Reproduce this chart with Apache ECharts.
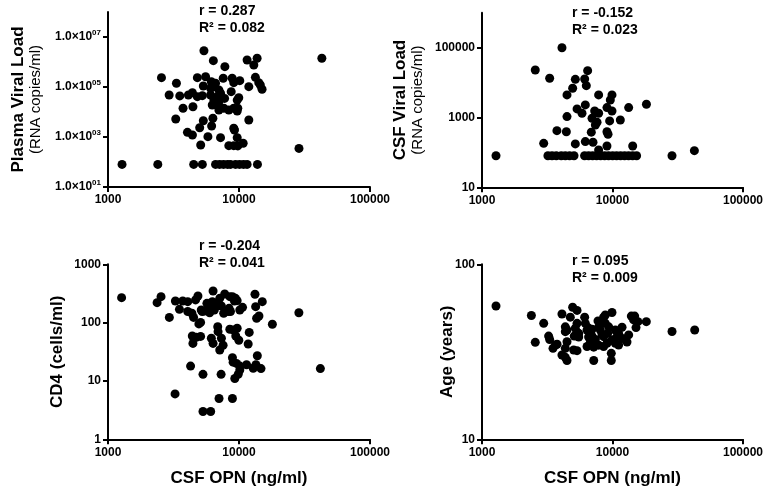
<!DOCTYPE html>
<html>
<head>
<meta charset="utf-8">
<script src="https://cdn.jsdelivr.net/npm/echarts@6/dist/echarts.min.js"></script>
<style>
  html, body { margin: 0; padding: 0; background: #fff; }
  #chart { width: 770px; height: 494px; }
</style>
</head>
<body>
<div id="chart"></div>
<script>
// CSF OPN (ng/ml) against plasma VL, CSF VL, CD4 and age, all log-log
const plasmaPoints = [
  [5400, 2830000], [6370, 1130000], [7800, 650000], [11530, 1200000], [12970, 760000], [13750, 1410000], [42900, 1410000],
  [2560, 236000], [3330, 141000], [4810, 236000], [5560, 258000], [5340, 110000], [6150, 163000], [6620, 141000],
  [7580, 223000], [8870, 223000], [9120, 149000], [10140, 179000], [13340, 244000], [14150, 149000], [14550, 120000],
  [15000, 81000], [11880, 103000],
  [2930, 48000], [3530, 44000], [4110, 48000], [4410, 59000], [4810, 41000], [5250, 45000], [6070, 89000], [6430, 103000],
  [7020, 76000], [6070, 48000], [6830, 41000], [7230, 56000], [7760, 35000], [6430, 30000], [7020, 25800], [6250, 19000],
  [6740, 22300], [8720, 65000], [9960, 37000], [9690, 30000],
  [4450, 16300], [3740, 14100], [7020, 12000], [7660, 14100], [8360, 12000], [9120, 14100], [9790, 14100], [9690, 11000],
  [3290, 5250], [5340, 4490], [6320, 5600], [11880, 4790], [6180, 2750], [5010, 2350], [9120, 2230], [9240, 1900],
  [4040, 1540], [4410, 1200], [5790, 1030], [7230, 940], [9690, 940],
  [5100, 480], [8360, 450], [9120, 450], [9790, 440], [10760, 560], [28700, 350],
  [1280, 80], [2400, 80], [4510, 80], [5250, 80], [6620, 80], [7110, 80], [7620, 80], [8180, 80], [8610, 80],
  [9400, 80], [10090, 80], [10820, 80], [11530, 80], [13830, 80]
];

const csfPoints = [
  [4100, 100000], [2560, 23000], [6450, 22000], [3300, 13300], [5190, 12400], [6120, 12700], [6300, 8190], [4950, 6870],
  [4480, 4430], [7830, 4430], [9910, 4430], [9620, 3180], [6190, 2290], [5350, 1760], [7300, 1540], [5840, 1320],
  [7830, 1320], [9070, 1920], [9910, 1540], [13300, 1920], [18200, 2390], [4480, 1060], [6970, 950], [7610, 730],
  [7390, 610], [9510, 800], [11480, 850], [3750, 420], [4430, 390], [6880, 380], [9070, 390], [9240, 330],
  [2970, 182], [5190, 175], [6190, 204], [7090, 195], [9070, 153], [7830, 117], [14280, 153], [42400, 112],
  [1280, 80], [3200, 80], [3440, 80], [3710, 80], [4050, 80], [4350, 80], [4690, 80], [5070, 80], [6110, 80],
  [6560, 80], [7040, 80], [7550, 80], [8110, 80], [8700, 80], [9330, 80], [10020, 80], [10740, 80], [11530, 80],
  [12380, 80], [13280, 80], [14260, 80], [15300, 80], [28570, 80]
];

const cd4Points = [
  [1270, 268], [2370, 220], [2540, 279], [2940, 123], [3270, 235], [3510, 169], [3720, 235], [4060, 229], [4860, 286],
  [4660, 245], [4060, 155], [4370, 145], [4500, 123], [4940, 95], [5090, 101], [5240, 155], [5690, 214], [6340, 349],
  [6260, 229], [5460, 158], [5970, 148], [6480, 165], [6710, 193], [7130, 261], [7340, 193], [7640, 145], [7780, 310],
  [8400, 176], [8610, 155], [8910, 279], [9230, 235], [9400, 261], [9680, 238], [10140, 165], [10640, 183],
  [13240, 306], [13630, 119], [13400, 188], [15060, 229], [14200, 130], [17980, 94], [28640, 148], [41800, 16.3],
  [5150, 165], [5970, 176], [6920, 214], [8510, 279], [8260, 155],
  [6880, 85], [6920, 70], [7340, 54], [7560, 41], [7130, 34], [6150, 54], [6340, 44], [4400, 59], [4720, 56],
  [5090, 58], [4450, 44], [8510, 77], [9020, 75], [9450, 59], [9680, 80], [9970, 50], [11970, 68], [11750, 43],
  [13800, 27], [8910, 25], [9020, 21], [9570, 20], [10140, 18], [10140, 15.4], [9860, 13], [9290, 11], [13470, 19],
  [12840, 16.5], [14720, 16.3], [11420, 19], [4270, 18], [5310, 13], [7300, 13], [3250, 6], [7040, 5], [8910, 5],
  [5310, 3], [6080, 3]
];

const agePoints = [
  [1280, 57.8], [2390, 51.0], [2970, 46], [2560, 35.8], [3240, 38.9], [3300, 37.2], [3500, 33.1], [3760, 34.9],
  [4100, 52], [4100, 30.3], [4350, 29.4], [4480, 28.2], [4480, 36.1], [4350, 33.1], [4480, 42.1], [4350, 43.9],
  [4750, 49.9], [4950, 56.8], [5350, 54.5], [5040, 32.4], [5350, 32.1], [5090, 38.9], [5510, 40.3], [5510, 38.4],
  [6120, 49.9], [6190, 46], [6380, 42.1], [6380, 33.9], [6560, 38.4], [6760, 35.6], [6970, 42.5], [7180, 33.6],
  [7390, 37.2], [7740, 47.5], [7830, 43.9], [8070, 42.1], [8310, 39.5], [8550, 49.9], [8810, 51.3], [8810, 46],
  [9350, 43.9], [9080, 35.4], [8550, 33.9], [9910, 53], [9910, 37], [9790, 31], [7180, 28.2], [9790, 28.2],
  [10510, 42.1], [10820, 38.6], [11140, 40.3], [11830, 43.7], [11960, 37.7], [12910, 36], [13300, 39.5],
  [13940, 50.6], [14790, 50.6], [14520, 48.1], [15140, 43.5], [15670, 47], [18160, 47], [28580, 41.3], [42650, 42.1],
  [8550, 38.6], [7830, 34.5], [10510, 35.4], [11140, 34.6], [6970, 38.9], [9180, 40.3], [5350, 46], [5190, 43.1],
  [3650, 34.6], [4350, 41.2], [6560, 43.2]
];

const xTicks = [1000, 10000, 100000];
const plasmaTicks = [10, 1000, 100000, 10000000];
const csfTicks = [10, 1000, 100000];
const cd4Ticks = [1, 10, 100, 1000];
const ageTicks = [10, 100];

const statLines = [
  ['r = 0.287', 'R\u00b2 = 0.082'],
  ['r = -0.152', 'R\u00b2 = 0.023'],
  ['r = -0.204', 'R\u00b2 = 0.041'],
  ['r = 0.095', 'R\u00b2 = 0.009']
];

const font = '"Liberation Sans", Arial, Helvetica, sans-serif';

const grids = [
  { left: 108, top: 12, width: 262, height: 175 },
  { left: 482, top: 12.8, width: 261, height: 174.5 },
  { left: 108, top: 264.3, width: 262, height: 175 },
  { left: 482, top: 264.3, width: 261, height: 175 }
];

function plainLabel(v) {
  return String(Math.round(v));
}

function sciLabel(v) {
  let e = Math.round(Math.log10(v));
  return '{b|1.0\u00d710}{s|' + (e < 10 ? '0' + e : e) + '}';
}

// interval 0 is needed, otherwise the log axis drops the ticks
const tickStyle = (vals) => ({
  show: true, inside: false, length: 5, interval: 0,
  lineStyle: { color: '#000', width: 2 },
  customValues: vals
});

function xAxis(i, withName) {
  return {
    type: 'log', logBase: 10, gridIndex: i, min: 1000, max: 100000,
    name: withName ? 'CSF OPN (ng/ml)' : '',
    nameLocation: 'middle', nameGap: 29, nameMoveOverlap: false,
    nameTextStyle: { fontFamily: font, fontSize: 17, fontWeight: 'bold', color: '#000', lineHeight: 20 },
    axisLine: { show: true, lineStyle: { color: '#000', width: 2 } },
    axisTick: tickStyle(xTicks),
    axisLabel: {
      customValues: xTicks, margin: 7, fontFamily: font, fontSize: 12, fontWeight: 'bold', color: '#000',
      formatter: plainLabel
    },
    splitLine: { show: false }, minorTick: { show: false }
  };
}

function yAxis(i, min, max, ticks, name, gap, rich, fmt) {
  return {
    type: 'log', logBase: 10, gridIndex: i, min: min, max: max,
    name: name, nameLocation: 'middle', nameGap: gap, nameRotate: 90, nameMoveOverlap: false,
    nameTextStyle: { fontFamily: font, fontSize: 17, fontWeight: 'bold', color: '#000', lineHeight: 20, rich: rich },
    axisLine: { show: true, lineStyle: { color: '#000', width: 2 } },
    axisTick: tickStyle(ticks),
    axisLabel: {
      customValues: ticks, margin: 7, fontFamily: font, fontSize: 12, fontWeight: 'bold', color: '#000',
      formatter: fmt,
      rich: {
        b: { fontFamily: font, fontSize: 12, fontWeight: 'bold', color: '#000', lineHeight: 16 },
        s: { fontFamily: font, fontSize: 8, fontWeight: 'bold', color: '#000', verticalAlign: 'top', lineHeight: 16 }
      }
    },
    splitLine: { show: false }, minorTick: { show: false }
  };
}

const twoLine = {
  a: { fontFamily: font, fontSize: 17, fontWeight: 'bold', color: '#000', lineHeight: 20 },
  c: { fontFamily: font, fontSize: 15, fontWeight: 'normal', color: '#000', lineHeight: 16 }
};

const statX = [199, 572, 199, 572];
const statY = [12, 14, 247, 262];

const graphic = [];
statLines.forEach((lines, i) => {
  lines.forEach((t, j) => {
    graphic.push({
      type: 'text', left: statX[i], top: statY[i] + j * 17.5 - 8,
      style: { text: t, font: 'bold 14px ' + font, fill: '#000' }
    });
  });
});

const panels = [plasmaPoints, csfPoints, cd4Points, agePoints];

const option = {
  animation: false,
  backgroundColor: '#fff',
  grid: grids.map(g => Object.assign({ outerBoundsMode: 'none' }, g)),
  xAxis: [xAxis(0, false), xAxis(1, false), xAxis(2, true), xAxis(3, true)],
  yAxis: [
    yAxis(0, 10, 100000000, plasmaTicks, '{a|Plasma Viral Load}\n{c|(RNA copies/ml)}', 64, twoLine, sciLabel),
    yAxis(1, 10, 1000000, csfTicks, '{a|CSF Viral Load}\n{c|(RNA copies/ml)}', 56, twoLine, plainLabel),
    yAxis(2, 1, 1000, cd4Ticks, 'CD4 (cells/ml)', 41, null, plainLabel),
    yAxis(3, 10, 100, ageTicks, 'Age (years)', 25, null, plainLabel)
  ],
  graphic: graphic,
  series: panels.map((d, i) => ({
    type: 'scatter', xAxisIndex: i, yAxisIndex: i, data: d,
    symbol: 'circle', symbolSize: 9, itemStyle: { color: '#000', opacity: 1 }, silent: true
  }))
};

const chart = echarts.init(document.getElementById('chart'), null, { renderer: 'canvas' });
chart.setOption(option);
</script>
</body>
</html>
